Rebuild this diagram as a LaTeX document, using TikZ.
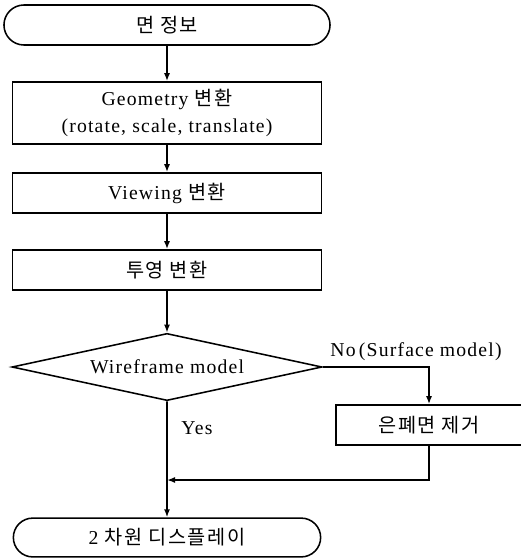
\documentclass[tikz,border=0pt]{standalone}
\usepackage{fontspec}
\setmainfont{Liberation Serif}[LetterSpace=6]
\newfontfamily\kr{Noto Sans CJK KR}[LetterSpace=8]
\usetikzlibrary{shapes.geometric,shapes.misc,arrows.meta}

\begin{document}
\begin{tikzpicture}[x=0.025cm,y=-0.025cm,line width=1.1pt,
        every node/.style={font=\fontsize{14}{19}\selectfont},
        term/.style={draw,rounded rectangle,inner sep=0pt},
        proc/.style={draw,rectangle,minimum width=7.72cm,align=center,inner sep=0pt},
        decide/.style={draw,diamond,aspect=4.6,minimum width=7.75cm,minimum height=1.68cm,inner sep=0pt},
        flow/.style={-{Latex[length=2mm,width=1.5mm]}}]
        \useasboundingbox (0,0) rectangle (520,559);

        \node[term,minimum width=8.15cm,minimum height=1cm] (info) at (167,25) {{\kr 면 정보}};
        \node[proc,minimum height=1.55cm] (geom) at (167,113) {Geometry {\kr 변환}\\(rotate, scale, translate)};
        \node[proc,minimum height=1cm] (view) at (167,193) {Viewing {\kr 변환}};
        \node[proc,minimum height=1cm] (proj) at (167,270) {{\kr 투영 변환}};
        \node[decide] (wire) at (167,367) {Wireframe model};
        \node[draw,minimum width=4.66cm,minimum height=1cm,inner sep=0pt] (hide) at (429,425) {{\kr 은폐면 제거}};
        \node[term,minimum width=7.68cm,minimum height=0.97cm] (disp) at (167,537.5) {2 {\kr 차원 디스플레이}};
        \coordinate (join) at (167,480);

        \node (no) at (416,352) {No\,(Surface model)};
        \node (yes) at (197,428) {Yes};

        \draw[flow] (info) -- (geom);
        \draw[flow] (geom) -- (view);
        \draw[flow] (view) -- (proj);
        \draw[flow] (proj) -- (wire);
        \draw[flow] (wire) -- (disp);
        \draw[flow] (wire.east) -| (hide.north);
        \draw[flow] (hide.south) |- (join);
    \end{tikzpicture}
\end{document}
